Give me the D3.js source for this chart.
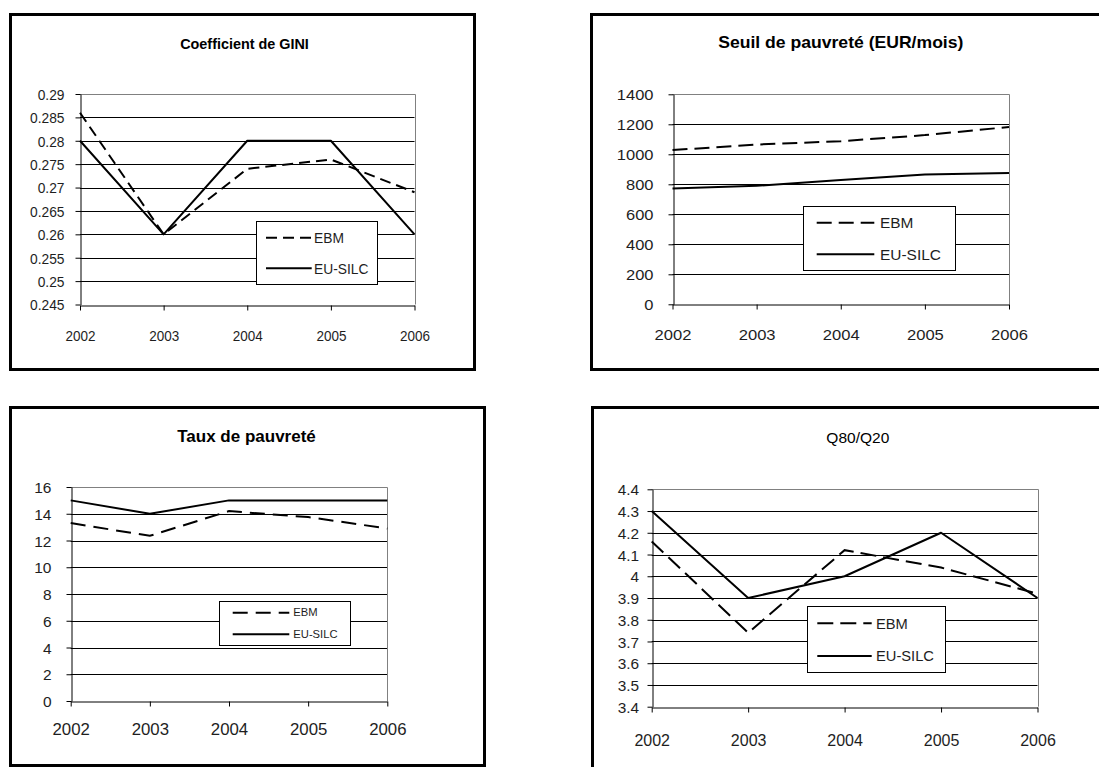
<!DOCTYPE html>
<html>
<head>
<meta charset="utf-8">
<script src="https://cdn.jsdelivr.net/npm/d3@7"></script>
<style>
  html, body { margin: 0; padding: 0; background: #fff; }
  svg { display: block; font-family: "Liberation Sans", Arial, sans-serif; }
</style>
</head>
<body>
<svg id="chart" width="1099" height="767"></svg>
<script>
// ---- data ----
const years = ["2002", "2003", "2004", "2005", "2006"];
const seriesNames = ["EBM", "EU-SILC"];

const giniEBM  = [0.286, 0.26, 0.274, 0.276, 0.269];
const giniSILC = [0.28, 0.26, 0.28, 0.28, 0.26];
const giniTicks = [0.245, 0.25, 0.255, 0.26, 0.265, 0.27, 0.275, 0.28, 0.285, 0.29];
const giniTickLabels = ["0.245", "0.25", "0.255", "0.26", "0.265", "0.27", "0.275", "0.28", "0.285", "0.29"];

const seuilEBM  = [1028, 1065, 1087, 1128, 1182];
const seuilSILC = [772, 790, 828, 865, 876];
const seuilTicks = [0, 200, 400, 600, 800, 1000, 1200, 1400];
const seuilTickLabels = ["0", "200", "400", "600", "800", "1000", "1200", "1400"];

const tauxEBM  = [13.3, 12.35, 14.2, 13.75, 12.9];
const tauxSILC = [15, 14, 15, 15, 15];
const tauxTicks = [0, 2, 4, 6, 8, 10, 12, 14, 16];
const tauxTickLabels = ["0", "2", "4", "6", "8", "10", "12", "14", "16"];

const qEBM  = [4.16, 3.74, 4.12, 4.04, 3.92];
const qSILC = [4.3, 3.9, 4.0, 4.2, 3.9];
const qTicks = [3.4, 3.5, 3.6, 3.7, 3.8, 3.9, 4.0, 4.1, 4.2, 4.3, 4.4];
const qTickLabels = ["3.4", "3.5", "3.6", "3.7", "3.8", "3.9", "4", "4.1", "4.2", "4.3", "4.4"];

const titles = ["Coefficient de GINI", "Seuil de pauvreté (EUR/mois)", "Taux de pauvreté", "Q80/Q20"];

// ---- layout of the four panels ----
const panels = [
  { title: titles[0], ebm: giniEBM, silc: giniSILC, ticks: giniTicks, labels: giniTickLabels,
    frame: [10.5, 14.5, 464, 355], plot: { l: 80, t: 94, r: 414.5, b: 304.5 },
    tt: { x: 244.5, y: 49, size: 15, bold: true, sx: 0.96 },
    yl: { off: 16, size: 15, sx: 0.92 }, xl: { off: 35.5, size: 15, sx: 0.9 },
    lg: { x0: 255.7, y0: 221, x1: 377, y1: 284.3, c1: 237.7, c2: 268.3, lx0: 266, lx1: 311.7, tx: 314, size: 15, sx: 0.92 },
    dash: "11,6" },
  { title: titles[1], ebm: seuilEBM, silc: seuilSILC, ticks: seuilTicks, labels: seuilTickLabels,
    frame: [591.5, 14.5, 520, 355], plot: { l: 672.5, t: 94.3, r: 1009, b: 304.3 },
    tt: { x: 840.8, y: 48.3, size: 16, bold: true, sx: 1.1 },
    yl: { off: 20, size: 15, sx: 1.1 }, xl: { off: 35, size: 15.5, sx: 1.07 },
    lg: { x0: 803, y0: 206, x1: 955, y1: 270, c1: 222.7, c2: 254.3, lx0: 816.7, lx1: 874.3, tx: 880, size: 15, sx: 1.03 },
    dash: "15,7" },
  { title: titles[2], ebm: tauxEBM, silc: tauxSILC, ticks: tauxTicks, labels: tauxTickLabels,
    frame: [10.5, 407.5, 474, 358], plot: { l: 70.7, t: 487, r: 387.3, b: 701 },
    tt: { x: 246.5, y: 441.7, size: 17, bold: true, sx: 1.0 },
    yl: { off: 20, size: 15.5, sx: 1.0 }, xl: { off: 33.3, size: 16, sx: 1.05 },
    lg: { x0: 219.3, y0: 601, x1: 350.7, y1: 645, c1: 612.7, c2: 634.3, lx0: 232.7, lx1: 289.3, tx: 293.3, size: 10.5, sx: 1.07 },
    dash: "15,8" },
  { title: titles[3], ebm: qEBM, silc: qSILC, ticks: qTicks, labels: qTickLabels,
    frame: [592.5, 407.5, 520, 400], plot: { l: 651.7, t: 489.3, r: 1037.5, b: 706.7 },
    tt: { x: 857.8, y: 442.7, size: 15.5, bold: false, sx: 1.0 },
    yl: { off: 13.4, size: 15.4, sx: 1.0 }, xl: { off: 38.3, size: 16, sx: 1.0 },
    lg: { x0: 806.7, y0: 606, x1: 944.3, y1: 671.7, c1: 623.3, c2: 656, lx0: 817.3, lx1: 871.7, tx: 876, size: 15, sx: 0.98 },
    dash: "16,7" }
];

const svg = d3.select("#chart");
const textColor = "#1e1e1e";

// text with its own horizontal stretch around the anchor point
function stretchedText(g, x, y, str, size, sx, anchor, weight) {
  return g.append("text")
    .attr("transform", `translate(${x},${y}) scale(${sx},1)`)
    .attr("text-anchor", anchor)
    .attr("font-size", size)
    .attr("font-weight", weight || "normal")
    .attr("fill", textColor)
    .text(str);
}

panels.forEach(p => {
  const g = svg.append("g");
  const { l, t, r, b } = p.plot;

  // outer frame
  g.append("rect")
    .attr("x", p.frame[0]).attr("y", p.frame[1])
    .attr("width", p.frame[2]).attr("height", p.frame[3])
    .attr("fill", "#fff").attr("stroke", "#000").attr("stroke-width", 3);

  const x = d3.scalePoint().domain(years).range([l, r]);
  const y = d3.scaleLinear().domain([p.ticks[0], p.ticks[p.ticks.length - 1]]).range([b, t]);

  // horizontal gridlines (inner ticks)
  g.append("g").selectAll("line")
    .data(p.ticks.slice(1, -1))
    .join("line")
    .attr("x1", l).attr("x2", r)
    .attr("y1", d => Math.round(y(d)) + 0.5).attr("y2", d => Math.round(y(d)) + 0.5)
    .attr("stroke", "#000").attr("stroke-width", 1);

  // plot-area border (top and right)
  g.append("path")
    .attr("d", `M${l},${Math.round(t) + 0.5}H${Math.round(r) + 0.5}V${b}`)
    .attr("fill", "none").attr("stroke", "#808080").attr("stroke-width", 1);

  // y axis
  const yAxis = g.append("g")
    .attr("transform", `translate(${Math.round(l) + 0.5},0)`)
    .call(d3.axisLeft(y).tickValues(p.ticks).tickSize(5).tickSizeOuter(0)
      .tickFormat((d, i) => p.labels[i]));
  yAxis.select(".domain").attr("stroke", "#000");
  yAxis.selectAll(".tick line").attr("stroke", "#000");
  yAxis.selectAll(".tick text")
    .attr("x", null).attr("dy", null)
    .attr("transform", `translate(${-p.yl.off},0) scale(${p.yl.sx},1)`)
    .attr("dy", "0.36em")
    .attr("font-size", p.yl.size)
    .attr("font-family", null)
    .attr("fill", textColor);

  // x axis
  const xAxis = g.append("g")
    .attr("transform", `translate(0,${Math.round(b) + 0.5})`)
    .call(d3.axisBottom(x).tickSize(5).tickSizeOuter(0));
  xAxis.select(".domain").attr("stroke", "#000");
  xAxis.selectAll(".tick line").attr("stroke", "#000");
  xAxis.selectAll(".tick text")
    .attr("y", null).attr("dy", null)
    .attr("transform", `translate(0,${p.xl.off}) scale(${p.xl.sx},1)`)
    .attr("font-size", p.xl.size)
    .attr("font-family", null)
    .attr("fill", textColor);

  // series lines
  const line = d3.line().x((d, i) => x(years[i])).y(d => y(d));
  g.append("path").datum(p.silc)
    .attr("d", line).attr("fill", "none")
    .attr("stroke", "#000").attr("stroke-width", 2).attr("stroke-linejoin", "round");
  g.append("path").datum(p.ebm)
    .attr("d", line).attr("fill", "none")
    .attr("stroke", "#000").attr("stroke-width", 2).attr("stroke-dasharray", p.dash);

  // title
  stretchedText(g, p.tt.x, p.tt.y, p.title, p.tt.size, p.tt.sx, "middle", p.tt.bold ? "bold" : "normal")
    .attr("fill", "#000");

  // legend
  const lg = p.lg;
  g.append("rect")
    .attr("x", Math.round(lg.x0) + 0.5).attr("y", Math.round(lg.y0) + 0.5)
    .attr("width", Math.round(lg.x1 - lg.x0)).attr("height", Math.round(lg.y1 - lg.y0))
    .attr("fill", "#fff").attr("stroke", "#000").attr("stroke-width", 1);
  [lg.c1, lg.c2].forEach((cy, i) => {
    g.append("line")
      .attr("x1", lg.lx0).attr("x2", lg.lx1).attr("y1", cy).attr("y2", cy)
      .attr("stroke", "#000").attr("stroke-width", 2)
      .attr("stroke-dasharray", i === 0 ? p.dash : null);
    stretchedText(g, lg.tx, cy, seriesNames[i], lg.size, lg.sx, "start")
      .attr("dy", "0.36em");
  });
});
</script>
</body>
</html>
